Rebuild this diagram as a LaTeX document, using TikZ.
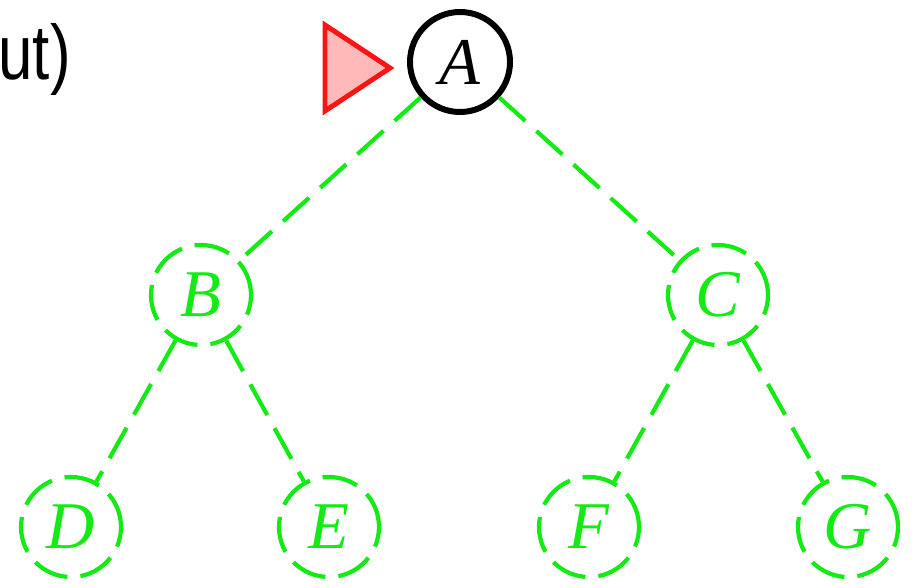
\documentclass[tikz,border=0pt]{standalone}
\usepackage{fontspec}
\newfontfamily\captionfont[FakeStretch=0.8]{Liberation Sans}
\newfontfamily\keyfont{Liberation Serif}
\definecolor{treegreen}{RGB}{20,235,20}
\definecolor{markred}{RGB}{250,20,20}
\definecolor{markfill}{RGB}{255,185,185}
\begin{document}
\begin{tikzpicture}[
                visited/.style={circle, draw=black, line width=3.4pt, minimum size=2cm, inner sep=0pt,
                    font=\keyfont\itshape\fontsize{38}{44}\selectfont},
                waiting/.style={visited, draw=treegreen, text=treegreen, line width=2.4pt,
                    dash pattern=on 0.72cm off 0.26cm},
                branch/.style={treegreen, line width=2.4pt, dash pattern=on 0.7cm off 0.3cm}
            ]
            \useasboundingbox (0,0) rectangle (18.24,-11.76);

            % 截断的标题
            \node[anchor=base east, inner sep=0pt, font=\captionfont\fontsize{44}{50}\selectfont] (title) at (1.42,-1.6) {ut)};

            % 树的结点
            \node[visited] (A) at (9.2,-1.24) {A};
            \node[waiting] (B) at (4.02,-5.9) {B};
            \node[waiting] (C) at (14.36,-5.9) {C};
            \node[waiting] (D) at (1.42,-10.54) {D};
            \node[waiting] (E) at (6.58,-10.54) {E};
            \node[waiting] (F) at (11.78,-10.54) {F};
            \node[waiting] (G) at (16.96,-10.54) {G};

            % 当前结点的标记
            \draw[markred, fill=markfill, line width=2.8pt] (6.5,-0.5) -- (6.5,-2.22) -- (7.8,-1.36) -- cycle;

            % 树的边
            \draw[branch] (A) -- (B);
            \draw[branch] (A) -- (C);
            \draw[branch] (B) -- (D);
            \draw[branch] (B) -- (E);
            \draw[branch] (C) -- (F);
            \draw[branch] (C) -- (G);
        \end{tikzpicture}
\end{document}
